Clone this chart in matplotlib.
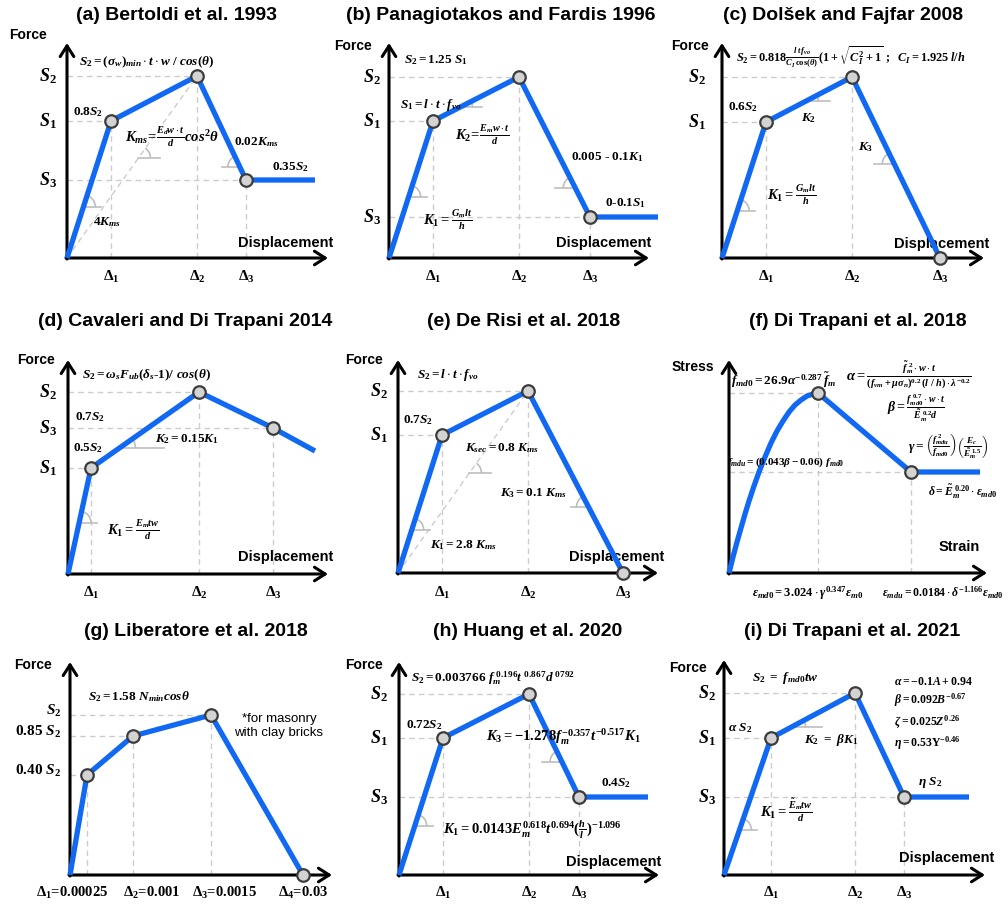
import numpy as np
import matplotlib.pyplot as plt
from matplotlib.patches import Arc

plt.rcParams['mathtext.fontset'] = 'custom'
plt.rcParams['mathtext.rm'] = 'Liberation Serif:bold'
plt.rcParams['mathtext.it'] = 'Liberation Serif:style=italic:weight=bold'
plt.rcParams['mathtext.bf'] = 'Liberation Serif:bold'

# backbone points of each model, offsets from the origin (x right, y up)
a_x = [0, 44, 130, 179, 248]
a_y = [0, 137, 182, 78, 78]
b_x = [0, 44, 130, 201, 269]
b_y = [0, 137, 181, 41, 41]
c_x = [0, 44, 130, 218]
c_y = [0, 136, 181, 0]
d_x = [0, 23, 131, 205, 247]
d_y = [0, 106, 182, 146, 123]
e_x = [0, 44, 130, 225]
e_y = [0, 138, 182, 0]
f_x = [0, 4, 8, 12, 16, 20, 25, 30, 36, 42, 48, 54, 60, 66, 72, 78, 84, 89, 182, 251]
f_y = [0, 16, 31, 45, 59, 72, 87, 101, 116, 130, 142, 152, 161, 168, 173, 177, 179, 180, 101, 101]
g_x = [0, 17, 63, 141, 233]
g_y = [0, 100, 139, 160, 0]
h_x = [0, 44, 130, 180, 249]
h_y = [0, 137, 181, 78, 78]
i_x = [0, 47, 131, 180, 245]
i_y = [0, 137, 182, 78, 78]

titles = ['(a) Bertoldi et al. 1993', '(b) Panagiotakos and Fardis 1996',
          '(c) Dolšek and Fajfar 2008', '(d) Cavaleri and Di Trapani 2014',
          '(e) De Risi et al. 2018', '(f) Di Trapani et al. 2018',
          '(g) Liberatore et al. 2018', '(h) Huang et al. 2020',
          '(i) Di Trapani et al. 2021']
delta_labels = [r'$\Delta_1$', r'$\Delta_2$', r'$\Delta_3$']
g_delta_labels = [r'$\Delta_1$=0.00025', r'$\Delta_2$=0.001', r'$\Delta_3$=0.0015', r'$\Delta_4$=0.03']
g_s_labels = [r'$S_2$', r'$0.85\ S_2$', r'$0.40\ S_2$']

BLUE = '#1168f2'
GRID = '#cccccc'
SLOPE = '#bdbdbd'
W, H = 1008, 909

fig = plt.figure(figsize=(W / 100, H / 100), dpi=100)


def panel(col, row, ox, oy):
    x0 = col * 336
    y0 = [0, 300, 600][row]
    h = [300, 300, 309][row]
    ax = fig.add_axes([x0 / W, 1 - (y0 + h) / H, 336 / W, h / H])
    ax.set_xlim(x0 - ox, x0 + 336 - ox)
    ax.set_ylim(oy - (y0 + h), oy - y0)
    ax.axis('off')
    return ax


def tx(ax, x, y, s, size=9, ha='center', **kw):
    ax.text(x, y, s, fontsize=size, ha=ha, va='center', family='Liberation Serif',
            weight='bold', **kw)


def frame(ax, xtip, ytip, title, tpos, ylab=('Force', -36, 212), xlab=('Displacement', 264, 15)):
    ap = dict(arrowstyle='->,head_length=0.55,head_width=0.35', lw=2.2, color='black',
              shrinkA=0, shrinkB=0, mutation_scale=14)
    ax.annotate('', xy=(xtip, 0), xytext=(-1, 0), arrowprops=ap)
    ax.annotate('', xy=(0, ytip), xytext=(0, -1), arrowprops=ap)
    ax.text(tpos[0], tpos[1], title, fontsize=14, ha='center', va='center',
            family='Liberation Sans', weight='bold')
    ax.text(ylab[1], ylab[2], ylab[0], fontsize=10, ha='center', va='center',
            family='Liberation Sans', weight='bold')
    if xlab:
        ax.text(xlab[1], xlab[2], xlab[0], fontsize=10.5, ha='right', va='center',
                family='Liberation Sans', weight='bold')


def guides(ax, xs, ys, idx):
    for k in idx:
        ax.plot([0, xs[k]], [ys[k], ys[k]], color=GRID, lw=1, ls=(0, (4, 3)), zorder=1)
        ax.plot([xs[k], xs[k]], [0, ys[k]], color=GRID, lw=1, ls=(0, (4, 3)), zorder=1)


def curve(ax, xs, ys, idx):
    ax.plot(xs, ys, color=BLUE, lw=3.8, zorder=3, solid_capstyle='butt',
            solid_joinstyle='round')
    ax.plot([xs[k] for k in idx], [ys[k] for k in idx], 'o', ms=9, mfc='#d3d3d3',
            mec='#3c3c3c', mew=1.6, zorder=4)


def slope(ax, xs, ys, i, yq, side, L=18, r=12):
    x0, y0, x1, y1 = xs[i], ys[i], xs[i + 1], ys[i + 1]
    xq = x0 + (yq - y0) / (y1 - y0) * (x1 - x0)
    ux, uy = (x1, y1) if y1 > y0 else (x0, y0)
    th = np.degrees(np.arctan2(uy - yq, ux - xq))
    ax.plot([xq, xq + side * L], [yq, yq], color=SLOPE, lw=1.2, zorder=2)
    a1, a2 = (0, th) if side > 0 else (th, 180)
    ax.add_patch(Arc((xq, yq), 2 * r, 2 * r, theta1=a1, theta2=a2, color=SLOPE, lw=1.2, zorder=2))


def ticks(ax, xs, ys, sidx, slabels, didx, sx=-19, dy=-19):
    for k, s in zip(sidx, slabels):
        tx(ax, sx, ys[k], s, size=13)
    for k, s in zip(didx, delta_labels):
        tx(ax, xs[k], dy, s, size=11)


# (a)
ax = panel(0, 0, 67, 258)
frame(ax, 261, 215, titles[0], (110, 243), ylab=('Force', -39, 223), xlab=('Displacement', 266, 15))
guides(ax, a_x, a_y, [1, 2, 3])
ax.plot([a_x[0], a_x[2]], [a_y[0], a_y[2]], color=GRID, lw=1, ls=(0, (4, 3)), zorder=1)
slope(ax, a_x, a_y, 0, 51, 1)
slope(ax, [a_x[0], a_x[2]], [a_y[0], a_y[2]], 0, 100, 1, L=22)
slope(ax, a_x, a_y, 2, 91, -1)
curve(ax, a_x, a_y, [1, 2, 3])
ticks(ax, a_x, a_y, [2, 1, 3], [r'$S_2$', r'$S_1$', r'$S_3$'], [1, 2, 3])
tx(ax, 80, 196, r'$S_2 = (\sigma_w)_{min}\cdot t\cdot w\ /\ cos(\theta)$', size=9.5)
tx(ax, 21, 146, r'$0.8S_2$', size=9.5)
tx(ax, 105, 121, r'$K_{ms}\!=\!\frac{E_d w\cdot t}{d}cos^2\theta$', size=10.5)
tx(ax, 189, 116, r'$0.02K_{ms}$', size=9.5)
tx(ax, 223, 91, r'$0.35S_2$', size=9.5)
tx(ax, 40, 36, r'$4K_{ms}$', size=9.5)

# (b)
ax = panel(1, 0, 389, 258)
frame(ax, 260, 215, titles[1], (112, 243), ylab=('Force', -36, 212), xlab=('Displacement', 262, 15))
guides(ax, b_x, b_y, [1, 2, 3])
slope(ax, b_x, b_y, 0, 61, 1)
slope(ax, b_x, b_y, 1, 151, 1, L=22)
slope(ax, b_x, b_y, 2, 70, -1, L=20)
curve(ax, b_x, b_y, [1, 2, 3])
ticks(ax, b_x, b_y, [2, 1, 3], [r'$S_2$', r'$S_1$', r'$S_3$'], [1, 2, 3], sx=-17)
tx(ax, 47, 198, r'$S_2 = 1.25\ S_1$', size=9.5)
tx(ax, 42, 153, r'$S_1 = l\cdot t\cdot f_{vo}$', size=9.5)
tx(ax, 94, 123, r'$K_2\!=\!\frac{E_m w\cdot t}{d}$', size=10.5)
tx(ax, 218, 101, r'0.005 - 0.1$K_1$', size=9.5)
tx(ax, 237, 55, r'0-0.1$S_1$', size=9.5)
tx(ax, 59, 38, r'$K_1 = \frac{G_m lt}{h}$', size=10.5)

# (c)
ax = panel(2, 0, 722, 258)
frame(ax, 262, 215, titles[2], (121, 243), ylab=('Force', -32, 212), xlab=('Displacement', 267, 14))
guides(ax, c_x, c_y, [1, 2])
slope(ax, c_x, c_y, 0, 47, 1)
slope(ax, c_x, c_y, 1, 157, 1, L=24)
slope(ax, c_x, c_y, 2, 94, -1, L=20)
curve(ax, c_x, c_y, [1, 2, 3])
ticks(ax, c_x, c_y, [2, 1], [r'$S_2$', r'$S_1$'], [1, 2, 3], sx=-25)
tx(ax, 129, 201, r'$S_2 = 0.818\frac{l\,t\,f_{vo}}{C_I\,\cos(\theta)}(1+\sqrt{C_I^2+1}\ ;\ \ C_I = 1.925\ l/h$', size=8.8)
tx(ax, 21, 151, r'0.6$S_2$', size=9.5)
tx(ax, 87, 140, r'$K_2$', size=9.5)
tx(ax, 144, 111, r'$K_3$', size=9.5)
tx(ax, 70, 63, r'$K_1 = \frac{G_m lt}{h}$', size=10.5)

# (d)
ax = panel(0, 1, 68, 574)
frame(ax, 260, 214, titles[3], (117, 252), ylab=('Force', -32, 214), xlab=('Displacement', 265, 17))
guides(ax, d_x, d_y, [1, 2, 3])
slope(ax, d_x, d_y, 0, 51, 1)
slope(ax, d_x, d_y, 1, 126, 1, L=45, r=16)
curve(ax, d_x, d_y, [1, 2, 3])
ticks(ax, d_x, d_y, [2, 3, 1], [r'$S_2$', r'$S_3$', r'$S_1$'], [1, 2, 3], sx=-20)
tx(ax, 78, 199, r'$S_2 = \omega_s F_{ub}(\delta_s$-$1)/\ cos(\theta)$', size=9.5)
tx(ax, 22, 157, r'0.7$S_2$', size=9.5)
tx(ax, 20, 126, r'0.5$S_2$', size=9.5)
tx(ax, 119, 135, r'$K_2 = 0.15K_1$', size=9.5)
tx(ax, 65, 44, r'$K_1 = \frac{E_m tw}{d}$', size=10.5)

# (e)
ax = panel(1, 1, 398, 573)
frame(ax, 260, 213, titles[4], (126, 251), ylab=('Force', -34, 213), xlab=('Displacement', 266, 16))
guides(ax, e_x, e_y, [1, 2])
ax.plot([e_x[0], e_x[2]], [e_y[0], e_y[2]], color=GRID, lw=1, ls=(0, (4, 3)), zorder=1)
slope(ax, e_x, e_y, 0, 43, 1)
slope(ax, [e_x[0], e_x[2]], [e_y[0], e_y[2]], 0, 100, 1, L=22)
slope(ax, e_x, e_y, 2, 66, -1)
curve(ax, e_x, e_y, [1, 2, 3])
ticks(ax, e_x, e_y, [2, 1], [r'$S_2$', r'$S_1$'], [1, 2, 3], dy=-20)
tx(ax, 50, 198, r'$S_2 = l\cdot t\cdot f_{vo}$', size=9.5)
tx(ax, 20, 153, r'0.7$S_2$', size=9.5)
tx(ax, 104, 125, r'$K_{sec} = 0.8\ K_{ms}$', size=9.5)
tx(ax, 135, 80, r'$K_3 = 0.1\ K_{ms}$', size=9.5)
tx(ax, 65, 28, r'$K_1 = 2.8\ K_{ms}$', size=9.5)

# (f)
ax = panel(2, 1, 729, 573)
frame(ax, 258, 213, titles[5], (129, 251), ylab=('Stress', -36, 206), xlab=('Strain', 251, 26))
guides(ax, f_x, f_y, [17, 18])
curve(ax, f_x, f_y, [17, 18])
tx(ax, 55, 193, r'$f_{md0} = 26.9\alpha^{-0.287}\,\tilde{f}_m$', size=9.5)
tx(ax, 180, 198, r'$\alpha = \frac{\tilde{f}_m^{\ 2}\cdot w\cdot t}{(f_{vm}+\mu\sigma_n)^{0.2}\,(l\ /\ h)\cdot\lambda^{-0.2}}$', size=10.5)
tx(ax, 187, 165, r'$\beta = \frac{f_{md0}^{\ 0.7}\cdot w\cdot t}{\tilde{E}_m^{\ 0.2}d}$', size=10)
tx(ax, 219, 126, r'$\gamma = \left(\frac{f_{mdu}^{\ 2}}{f_{md0}}\right)\left(\frac{E_c}{\tilde{E}_m^{\ 1.5}}\right)$', size=9.5)
tx(ax, 57, 111, r'$f_{mdu} = (0.043\beta - 0.06)\ f_{md0}$', size=8)
tx(ax, 234, 81, r'$\delta = \tilde{E}_m^{\ 0.20}\cdot\varepsilon_{md0}$', size=8.5)
tx(ax, 79, -20, r'$\varepsilon_{md0} = 3.024\cdot\gamma^{0.347}\varepsilon_{m0}$', size=9)
tx(ax, 214, -20, r'$\varepsilon_{mdu} = 0.0184\cdot\delta^{-1.166}\varepsilon_{md0}$', size=8.5)

# (g)
ax = panel(0, 2, 70, 875)
frame(ax, 262, 213, titles[6], (126, 243), ylab=('Force', -37, 210), xlab=None)
guides(ax, g_x, g_y, [1, 2, 3])
curve(ax, g_x, g_y, [1, 2, 3, 4])
for k, s in zip([3, 2, 1], g_s_labels):
    tx(ax, -9, g_y[k] + 4, s, size=11, ha='right')
for xx, s in zip([2, 82, 154, 233], g_delta_labels):
    tx(ax, xx, -18, s, size=10.5)
tx(ax, 69, 178, r'$S_2 = 1.58\ N_{min}cos\theta$', size=9.5)
ax.text(209, 149, '*for masonry\nwith clay bricks', fontsize=9.5, ha='center', va='center',
        family='Liberation Sans', linespacing=1.15)

# (h)
ax = panel(1, 2, 399, 875)
frame(ax, 260, 213, titles[7], (129, 243), ylab=('Force', -35, 210), xlab=('Displacement', 262, 13))
guides(ax, h_x, h_y, [1, 2, 3])
slope(ax, h_x, h_y, 0, 49, 1)
slope(ax, h_x, h_y, 2, 113, -1, L=20)
curve(ax, h_x, h_y, [1, 2, 3])
ticks(ax, h_x, h_y, [2, 1, 3], [r'$S_2$', r'$S_1$', r'$S_3$'], [1, 2, 3], sx=-20, dy=-18)
tx(ax, 94, 197, r'$S_2 = 0.003766\ f_m^{\ 0.196}t^{\ 0.867}d^{\ 0792}$', size=9.5)
tx(ax, 25, 150, r'0.72$S_2$', size=9.5)
tx(ax, 164, 138, r'$K_3 = -1.278f_m^{-0.357}t^{-0.517}K_1$', size=10.5)
tx(ax, 217, 92, r'0.4$S_2$', size=9.5)
tx(ax, 133, 45, r'$K_1 = 0.0143E_m^{0.618}t^{0.694}(\frac{h}{l})^{-1.096}$', size=10.5)

# (i)
ax = panel(2, 2, 724, 875)
frame(ax, 261, 215, titles[8], (128, 243), ylab=('Force', -36, 207), xlab=('Displacement', 270, 17))
guides(ax, i_x, i_y, [1, 2, 3])
slope(ax, i_x, i_y, 0, 45, 1)
slope(ax, i_x, i_y, 1, 148, 1, L=30, r=14)
curve(ax, i_x, i_y, [1, 2, 3])
ticks(ax, i_x, i_y, [2, 1, 3], [r'$S_2$', r'$S_1$', r'$S_3$'], [1, 2, 3], sx=-17, dy=-18)
tx(ax, 61, 197, r'$S_2\ =\ f_{md0}tw$', size=9.5)
tx(ax, 16, 147, r'$\alpha\ S_2$', size=9.5)
tx(ax, 107, 135, r'$K_2\ =\ \beta K_1$', size=9.5)
tx(ax, 206, 92, r'$\eta\ S_2$', size=9.5)
tx(ax, 62, 65, r'$K_1 = \frac{\tilde{E}_m tw}{d}$', size=10.5)
for yy, s in zip([193, 175, 153, 132], [r'$\alpha = -0.1A + 0.94$', r'$\beta = 0.092B^{-0.67}$',
                                       r'$\zeta = 0.025Z^{0.26}$', r'$\eta = 0.53\Upsilon^{-0.46}$']):
    tx(ax, 170, yy, s, size=8.5, ha='left')

fig.savefig('out.png', dpi=100)
